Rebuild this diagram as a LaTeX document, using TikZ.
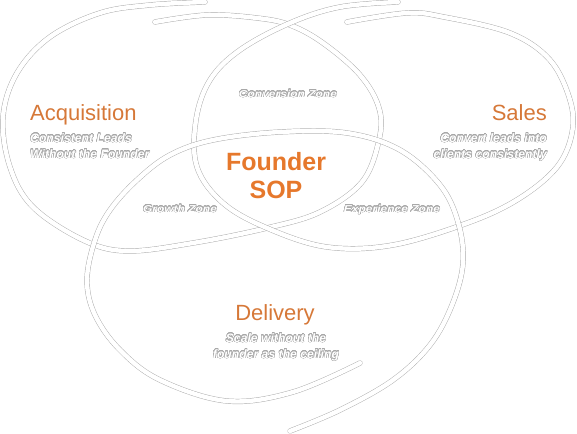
\documentclass[tikz,border=0pt]{standalone}
\usepackage{fontspec}
\setmainfont{Liberation Sans}
\usepackage{contour}
\contourlength{0.35pt}
\contournumber{24}
\definecolor{ttl}{HTML}{D67838}
\definecolor{sop}{HTML}{E6782C}
\definecolor{edge}{HTML}{ABABAB}
\definecolor{txtedge}{HTML}{A8A8A8}
\newcommand{\olt}[1]{{\color{white}\contour{txtedge}{#1}}}
\tikzset{
  brush/.style={draw=white, line width=4.4pt, line cap=round, line join=round,
    preaction={draw=edge, line width=5.3pt, line cap=round, line join=round}},
  title/.style={inner sep=0pt, text=ttl, font=\fontsize{22}{24}\selectfont},
  sub/.style={inner sep=0pt, font=\fontsize{12.2}{14}\selectfont\bfseries\itshape},
  zone/.style={inner sep=0pt, font=\fontsize{10}{12}\selectfont\bfseries\itshape},
}
\begin{document}
\begin{tikzpicture}[x=1pt,y=-1pt]
\useasboundingbox (0,0) rectangle (577,433);
% Acquisition loop
\draw[brush] plot[smooth, tension=0.6] coordinates {(155,22) (207,15) (257,18) (290,25) (323,43) (360,75) (379,108) (379,140) (362,182) (320,212) (267,228) (193,243) (127,251) (83,240) (33,207) (10,167) (3,117) (17,73) (50,37) (100,13) (150,5) (205,2)};
% Sales loop
\draw[brush] plot[smooth, tension=0.6] coordinates {(347,22) (407,13) (444,17) (510,33) (550,60) (570,100) (572,133) (557,167) (520,198) (470,222) (393,245) (327,247) (267,228) (223,203) (197,167) (196,120) (210,80) (240,50) (290,23) (340,7) (398,2)};
% Delivery loop
\draw[brush] plot[smooth, tension=0.6] coordinates {(290,431) (340,410) (393,380) (430,345) (452,305) (463,263) (458,222) (440,185) (400,150) (347,133) (280,132) (213,140) (170,155) (137,180) (110,210) (95,240) (87,280) (95,315) (120,350) (160,380) (227,401) (293,392) (360,363)};
% Titles
\node[title, anchor=base west] (acq) at (30,121) {Acquisition};
\node[sub, anchor=base west] (acq1) at (30,142) {\olt{Consistent Leads}};
\node[sub, anchor=base west] (acq2) at (30,158) {\olt{Without the Founder}};
\node[title, anchor=base east] (sal) at (547,121) {Sales};
\node[sub, anchor=base east] (sal1) at (547,142) {\olt{Convert leads into}};
\node[sub, anchor=base east] (sal2) at (547,158) {\olt{clients consistently}};
\node[title, anchor=base] (del) at (275,320) {Delivery};
\node[sub, anchor=base] (del1) at (276,342) {\olt{Scale without the}};
\node[sub, anchor=base] (del2) at (276,358) {\olt{founder as the ceiling}};
\node[inner sep=0pt, anchor=base, text=sop, font=\fontsize{25}{28}\selectfont\bfseries] (f1) at (276,170) {Founder};
\node[inner sep=0pt, anchor=base, text=sop, font=\fontsize{25}{28}\selectfont\bfseries] (f2) at (276,198) {SOP};
\node[zone, anchor=base] (cz) at (288,97) {\scalebox{1.2}[1]{\olt{Conversion Zone}}};
\node[zone, anchor=base] (gz) at (180,212) {\scalebox{1.2}[1]{\olt{Growth Zone}}};
\node[zone, anchor=base] (ez) at (392,212) {\scalebox{1.2}[1]{\olt{Experience Zone}}};
\end{tikzpicture}
\end{document}
